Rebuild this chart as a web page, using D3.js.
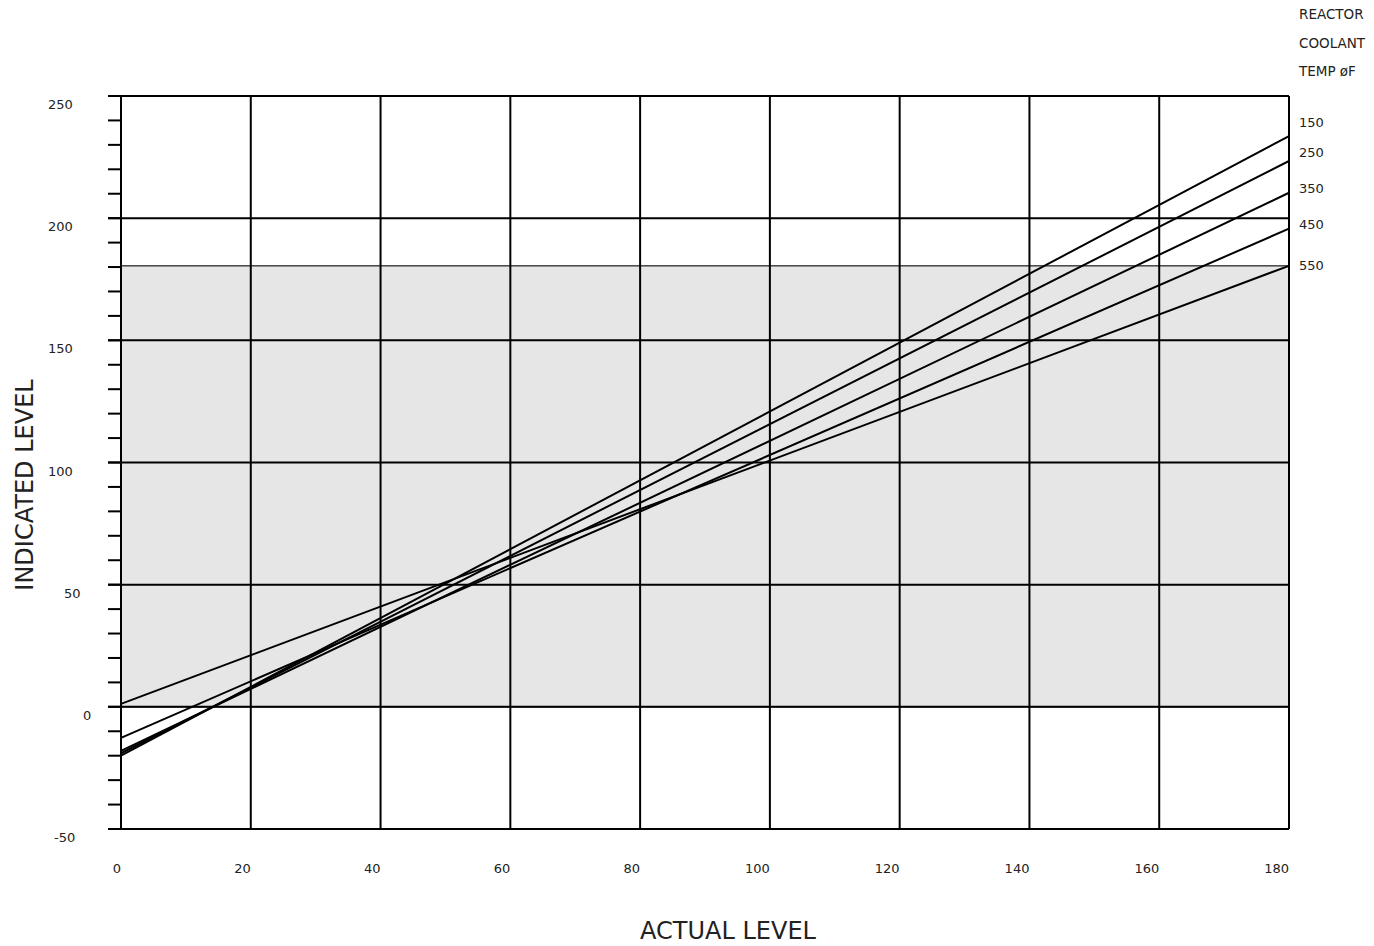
<!DOCTYPE html>
<html>
<head>
<meta charset="utf-8">
<script src="https://cdn.jsdelivr.net/npm/d3@7"></script>
<style>
  body { margin: 0; background: #fff; }
  text { font-family: "DejaVu Sans", Verdana, sans-serif; fill: #222; }
</style>
</head>
<body>
<div id="chart"></div>
<script>
// data
const temps = [150, 250, 350, 450, 550];
const startLevel = [-20, -19, -18, -12.7, 1.2]; // indicated level at actual 0
const endLevel = [233.6, 223.4, 210.4, 195.7, 180.5]; // indicated level at actual 180
const labelLevel = [239.4, 227.2, 212.4, 197.6, 180.8]; // where each temp label sits
const xTicks = [0, 20, 40, 60, 80, 100, 120, 140, 160, 180];
const yTicks = [-50, 0, 50, 100, 150, 200, 250];
const band = [0, 180.5];
const header = ["REACTOR", "COOLANT", "TEMP øF"];

const dims = { width: 1374, height: 946 };
const plot = { left: 121, right: 1289, top: 96, bottom: 829 };

const svg = d3
  .select("#chart")
  .append("svg")
  .attr("width", dims.width)
  .attr("height", dims.height);

const x = d3.scaleLinear().domain([0, 180]).range([plot.left, plot.right]);
const y = d3.scaleLinear().domain([-50, 250]).range([plot.bottom, plot.top]);

// grey band
svg
  .append("rect")
  .attr("x", x(0))
  .attr("y", y(band[1]))
  .attr("width", x(180) - x(0))
  .attr("height", y(band[0]) - y(band[1]))
  .attr("fill", "#e6e6e6")
  .attr("stroke", "#444")
  .attr("stroke-width", 1.5);

// minor ticks every 10
const minor = d3.range(-50, 251, 10);
svg
  .append("g")
  .selectAll("line")
  .data(minor)
  .enter()
  .append("line")
  .attr("x1", plot.left - 13)
  .attr("x2", plot.left)
  .attr("y1", d => y(d))
  .attr("y2", d => y(d))
  .attr("stroke", "#000")
  .attr("stroke-width", 2);

// grid
const grid = svg.append("g").attr("stroke", "#000").attr("stroke-width", 2);
grid
  .selectAll(".h")
  .data(yTicks)
  .enter()
  .append("line")
  .attr("x1", plot.left - 13)
  .attr("x2", plot.right)
  .attr("y1", d => y(d))
  .attr("y2", d => y(d));
grid
  .selectAll(".v")
  .data(xTicks)
  .enter()
  .append("line")
  .attr("x1", d => x(d))
  .attr("x2", d => x(d))
  .attr("y1", plot.top)
  .attr("y2", plot.bottom);

// calibration lines
const lines = temps.map((t, i) => ({
  temp: t,
  pts: [[0, startLevel[i]], [180, endLevel[i]]]
}));
const lineGen = d3.line().x(d => x(d[0])).y(d => y(d[1]));
svg
  .append("g")
  .selectAll("path")
  .data(lines)
  .enter()
  .append("path")
  .attr("d", d => lineGen(d.pts))
  .attr("fill", "none")
  .attr("stroke", "#000")
  .attr("stroke-width", 2);

// x tick labels
svg
  .append("g")
  .selectAll("text")
  .data(xTicks)
  .enter()
  .append("text")
  .attr("x", d => x(d))
  .attr("y", 873)
  .attr("text-anchor", "end")
  .attr("font-size", 13)
  .text(d => d);

// y tick labels
const yLabelX = { "-50": 54, "0": 83, "50": 64 };
svg
  .append("g")
  .selectAll("text")
  .data(yTicks)
  .enter()
  .append("text")
  .attr("x", d => (yLabelX[d] !== undefined ? yLabelX[d] : 48))
  .attr("y", d => y(d) + 13)
  .attr("font-size", 13)
  .text(d => d);

// temperature labels
svg
  .append("g")
  .selectAll("text")
  .data(temps)
  .enter()
  .append("text")
  .attr("x", 1299)
  .attr("y", (d, i) => y(labelLevel[i]) + 5)
  .attr("font-size", 13)
  .text(d => d);

svg
  .append("g")
  .selectAll("text")
  .data(header)
  .enter()
  .append("text")
  .attr("x", 1299)
  .attr("y", (d, i) => 19 + i * 28.5)
  .attr("font-size", 13.5)
  .text(d => d);

// axis titles
svg
  .append("text")
  .attr("x", 728)
  .attr("y", 939)
  .attr("text-anchor", "middle")
  .attr("font-size", 24)
  .text("ACTUAL LEVEL");

svg
  .append("text")
  .attr("transform", "translate(33, 485) rotate(-90)")
  .attr("text-anchor", "middle")
  .attr("font-size", 24)
  .text("INDICATED LEVEL");
</script>
</body>
</html>
